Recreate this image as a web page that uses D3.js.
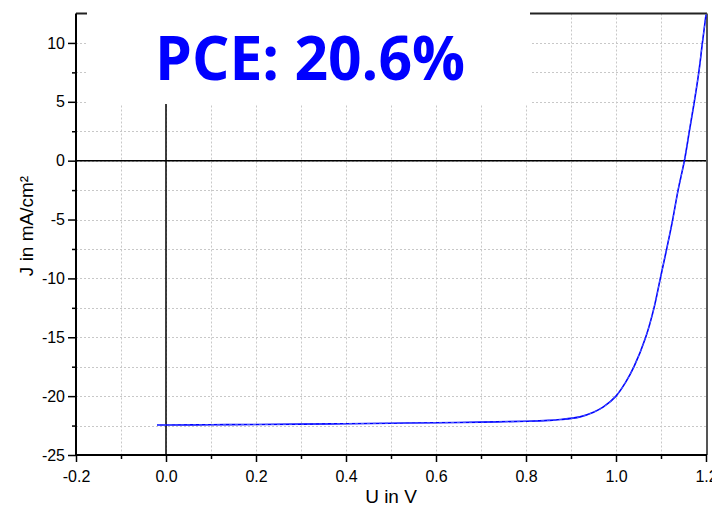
<!DOCTYPE html>
<html>
<head>
<meta charset="utf-8">
<script src="https://cdn.jsdelivr.net/npm/d3@7"></script>
<style>
  html, body { margin: 0; padding: 0; background: #fff; }
  svg { display: block; }
  text { font-family: "Liberation Sans", Arial, sans-serif; }
</style>
</head>
<body>
<svg id="chart" width="712" height="506"></svg>
<script>
// J–V curve of the solar cell (U in V, J in mA/cm²)
const voltage = [-0.02, 0.0, 0.1, 0.2, 0.3, 0.4, 0.5, 0.6, 0.7, 0.8, 0.85, 0.876, 0.92, 0.95, 0.972, 1.0, 1.021, 1.040, 1.066, 1.0845, 1.0985, 1.1126, 1.126, 1.138, 1.152, 1.163, 1.174, 1.184, 1.192, 1.2];
const currentDensity = [-22.45, -22.45, -22.43, -22.41, -22.38, -22.34, -22.30, -22.26, -22.21, -22.13, -22.06, -21.99, -21.76, -21.37, -20.92, -20.0, -18.85, -17.5, -15.0, -12.5, -10, -7.5, -5, -2.5, 0, 2.5, 5, 7.5, 10, 12.4];

const xTicks = [-0.2, 0.0, 0.2, 0.4, 0.6, 0.8, 1.0, 1.2];
const xMinorTicks = [-0.1, 0.1, 0.3, 0.5, 0.7, 0.9, 1.1];
const yTicks = [-25, -20, -15, -10, -5, 0, 5, 10];
const yMinorTicks = [-22.5, -17.5, -12.5, -7.5, -2.5, 2.5, 7.5];

const titleText = "PCE: 20.6%";
const xLabel = "U in V";
const yLabel = "J in mA/cm²";

const svg = d3.select("#chart");
const plotLeft = 76, plotRight = 706, plotTop = 13.5, plotBottom = 455;

const x = d3.scaleLinear().domain([-0.2, 1.2]).range([plotLeft, plotRight]);
const y = d3.scaleLinear().domain([-25, 12.5]).range([plotBottom, plotTop]);

// plain hyphen for negative numbers
const hyphen = f => d => f(d).replace("\u2212", "-");

// dotted grid
const grid = svg.append("g").attr("stroke", "#c8c8c8").attr("stroke-width", 1)
  .attr("stroke-dasharray", "2,2");
grid.selectAll("line.v").data(xTicks.concat(xMinorTicks).filter(d => d > -0.2 && d < 1.2))
  .join("line").attr("class", "v")
  .attr("x1", d => Math.round(x(d)) + 0.5).attr("x2", d => Math.round(x(d)) + 0.5)
  .attr("y1", plotTop).attr("y2", plotBottom);
grid.selectAll("line.h").data(yTicks.concat(yMinorTicks).filter(d => d > -25 && d < 12.5))
  .join("line").attr("class", "h")
  .attr("y1", d => Math.round(y(d)) + 0.5).attr("y2", d => Math.round(y(d)) + 0.5)
  .attr("x1", plotLeft).attr("x2", plotRight);

// frame: top and right
svg.append("line").attr("x1", plotLeft).attr("x2", plotRight + 1).attr("y1", plotTop).attr("y2", plotTop)
  .attr("stroke", "#222").attr("stroke-width", 2);
svg.append("line").attr("x1", plotRight + 1).attr("x2", plotRight + 1).attr("y1", plotTop).attr("y2", plotBottom)
  .attr("stroke", "#555").attr("stroke-width", 2);

// zero lines
svg.append("line").attr("x1", plotLeft).attr("x2", plotRight).attr("y1", y(0)).attr("y2", y(0))
  .attr("stroke", "#000").attr("stroke-width", 1.5);
svg.append("line").attr("x1", x(0)).attr("x2", x(0)).attr("y1", plotTop).attr("y2", plotBottom)
  .attr("stroke", "#000").attr("stroke-width", 1.5);

// white title box
svg.append("rect").attr("x", 87).attr("y", 0).attr("width", 443).attr("height", 104)
  .attr("fill", "#fff");
svg.append("text").attr("x", 310).attr("y", 80).attr("text-anchor", "middle")
  .style("font-family", "'Open Sans', sans-serif").style("font-weight", 700)
  .style("font-size", "60px").attr("fill", "#0000ff")
  .attr("textLength", 310).attr("lengthAdjust", "spacingAndGlyphs")
  .text(titleText);

// axes
const xAxis = svg.append("g").attr("transform", `translate(0,${plotBottom})`)
  .call(d3.axisBottom(x).tickValues(xTicks).tickFormat(hyphen(d3.format(".1f"))).tickSize(7).tickSizeOuter(0));
const xMinor = svg.append("g").attr("transform", `translate(0,${plotBottom})`)
  .call(d3.axisBottom(x).tickValues(xMinorTicks).tickFormat("").tickSize(4).tickSizeOuter(0));
const yAxis = svg.append("g").attr("transform", `translate(${plotLeft},0)`)
  .call(d3.axisLeft(y).tickValues(yTicks).tickFormat(hyphen(d3.format("d"))).tickSize(8).tickSizeOuter(0));
const yMinor = svg.append("g").attr("transform", `translate(${plotLeft},0)`)
  .call(d3.axisLeft(y).tickValues(yMinorTicks).tickFormat("").tickSize(4).tickSizeOuter(0));

[xAxis, xMinor, yAxis, yMinor].forEach(g => {
  g.selectAll(".domain").attr("stroke", "#000").attr("stroke-width", 2);
  g.selectAll(".tick line").attr("stroke", "#000").attr("stroke-width", 1.5);
});
xMinor.select(".domain").remove();
yMinor.select(".domain").remove();
xAxis.select(".domain").attr("d", `M${plotLeft - 1},0H${plotRight + 1}`);
yAxis.select(".domain").attr("d", `M0,${plotTop}V${plotBottom + 1}`);
xAxis.selectAll(".tick text").attr("fill", "#000").style("font-size", "16px").attr("dy", "1.05em");
yAxis.selectAll(".tick text").attr("fill", "#000").style("font-size", "16px").attr("x", -11);

// axis titles
svg.append("text").attr("x", 391).attr("y", 503).attr("text-anchor", "middle")
  .style("font-size", "19px").attr("fill", "#000").text(xLabel);
svg.append("text").attr("transform", "translate(33,226) rotate(-90)").attr("text-anchor", "middle")
  .style("font-size", "19px").attr("fill", "#000").text(yLabel);

// curve
const line = d3.line().x((d, i) => x(voltage[i])).y(d => y(d)).curve(d3.curveCatmullRom.alpha(0.5));
svg.append("path").datum(currentDensity).attr("d", line)
  .attr("fill", "none").attr("stroke", "#0000ff").attr("stroke-width", 1.6);
svg.append("path").datum(currentDensity).attr("d", line)
  .attr("fill", "none").attr("stroke", "#4a5cff").attr("stroke-width", 1)
  .attr("stroke-dasharray", "3,3");
</script>
</body>
</html>
